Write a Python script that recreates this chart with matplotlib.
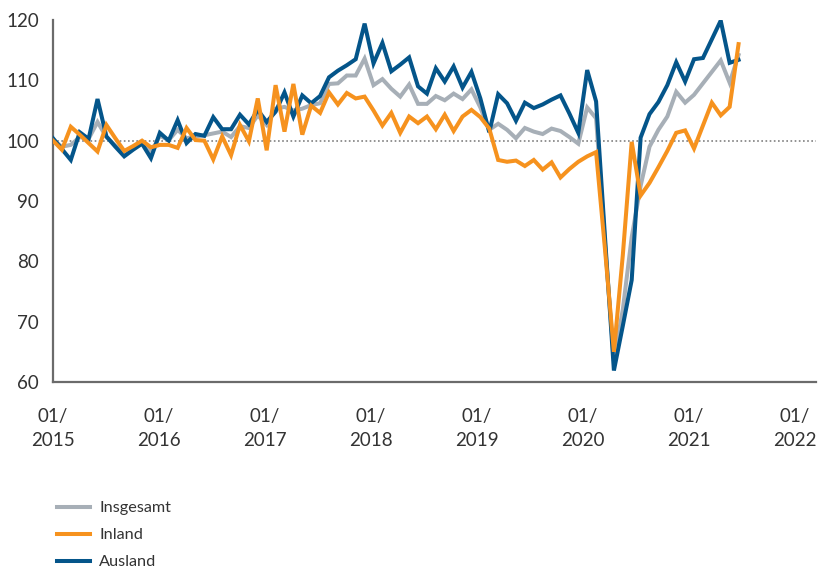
import numpy as np
import matplotlib
matplotlib.use("Agg")
import matplotlib.pyplot as plt

plt.rcParams['font.family'] = ['Lato', 'DejaVu Sans']

# Auftragseingang, Index 2015 = 100, monatlich ab 01/2015
insgesamt = [100.1, 99.0, 99.3, 100.6, 100.3, 103.1, 100.6, 99.2, 97.9, 98.7, 99.7, 98.1, 100.8,
             100.1, 101.8, 100.4, 100.7, 100.9, 101.2, 101.5, 100.6, 102.4, 102.1, 104.2, 102.6,
             105.3, 105.6, 105.0, 105.3, 105.9, 106.2, 109.4, 109.5, 110.8, 110.8, 113.6, 109.2,
             110.2, 108.6, 107.3, 109.3, 106.1, 106.1, 107.4, 106.7, 107.8, 106.9, 108.5, 105.5,
             101.8, 102.8, 101.8, 100.4, 102.1, 101.5, 101.1, 102.0, 101.6, 100.6, 99.5, 105.5,
             103.7, 83.0, 63.5, 72.0, 84.0, 92.5, 99.0, 101.8, 104.0, 108.1, 106.3, 107.6,
             109.5, 111.4, 113.3, 109.6, 114.2]

inland = [100.0, 98.5, 102.3, 101.0, 99.6, 98.2, 102.6, 100.4, 98.3, 99.1, 100.0, 98.9, 99.3,
          99.3, 98.8, 102.1, 100.1, 100.0, 96.9, 100.7, 97.6, 102.6, 99.9, 107.0, 98.4,
          109.2, 101.5, 109.4, 101.0, 105.8, 104.6, 108.0, 106.0, 107.9, 107.0, 107.3, 105.0,
          102.5, 104.6, 101.3, 104.0, 102.9, 104.0, 101.9, 104.3, 101.6, 104.0, 105.1, 103.9,
          102.0, 96.8, 96.5, 96.7, 95.8, 96.8, 95.2, 96.4, 93.9, 95.3, 96.5, 97.4,
          98.1, 82.0, 65.0, 81.0, 99.8, 90.9, 93.0, 95.6, 98.3, 101.3, 101.7, 98.7,
          102.5, 106.3, 104.2, 105.6, 116.0]

ausland = [100.4, 98.6, 96.8, 101.4, 100.3, 106.9, 100.7, 99.0, 97.4, 98.5, 99.5, 97.1, 101.3,
           100.0, 103.4, 99.6, 101.1, 100.8, 103.9, 101.9, 101.9, 104.3, 102.7, 105.1, 103.1,
           104.8, 108.0, 104.0, 107.5, 106.2, 107.4, 110.5, 111.6, 112.5, 113.5, 119.4, 112.8,
           116.2, 111.5, 112.6, 113.8, 109.0, 107.8, 112.0, 109.8, 112.3, 108.8, 111.4, 107.0,
           101.4, 107.7, 106.2, 103.3, 106.3, 105.4, 106.0, 106.8, 107.5, 104.5, 101.3, 111.7,
           106.5, 84.0, 61.9, 69.3, 76.9, 100.5, 104.4, 106.4, 109.2, 113.0, 109.8, 113.5,
           113.7, 116.8, 119.9, 112.9, 113.4]

farben = {'Insgesamt': '#a7afb7', 'Inland': '#f6921e', 'Ausland': '#04558a'}


def main():
    fig = plt.figure(figsize=(8.18, 5.68), dpi=100)
    ax = fig.add_axes([53/818, 1 - 382/568, (816 - 53)/818, (382 - 20)/568])

    monate = np.arange(len(ausland))
    ax.axhline(100, color='#808080', lw=1.2, ls=(0, (1, 1.5)), zorder=1)

    linien = []
    for name, werte, z in [('Insgesamt', insgesamt, 2), ('Ausland', ausland, 3), ('Inland', inland, 4)]:
        l, = ax.plot(monate, werte, color=farben[name], lw=2.9, label=name,
                     solid_joinstyle='miter', zorder=z)
        linien.append(l)

    ax.set_xlim(0, 85.7)
    ax.set_ylim(60, 120)
    ax.set_yticks(range(60, 121, 10))
    # Jahreslabels wie im Original leicht enger als 12 Monate
    ax.set_xticks(np.arange(8) * 11.9)
    ax.set_xticklabels([f"01/\n{j}" for j in range(2015, 2023)], linespacing=1.5)

    for s in ['top', 'right']:
        ax.spines[s].set_visible(False)
    for s in ['left', 'bottom']:
        ax.spines[s].set_color('#6b6b6b')
        ax.spines[s].set_linewidth(1.6)

    ax.tick_params(axis='both', length=0, labelsize=13.5, colors='#333333')
    ax.tick_params(axis='y', pad=10)
    ax.tick_params(axis='x', pad=19)

    handles = {l.get_label(): l for l in linien}
    reihenfolge = ['Insgesamt', 'Inland', 'Ausland']
    fig.legend([handles[n] for n in reihenfolge], reihenfolge, loc='upper left',
               bbox_to_anchor=(57/818, 1 - 501/568), frameon=False, fontsize=11.7,
               handlelength=2.0, handletextpad=0.6, labelspacing=0.78,
               borderpad=0, borderaxespad=0, labelcolor='#333333')

    fig.savefig('out.png', dpi=100)


if __name__ == "__main__":
    main()
